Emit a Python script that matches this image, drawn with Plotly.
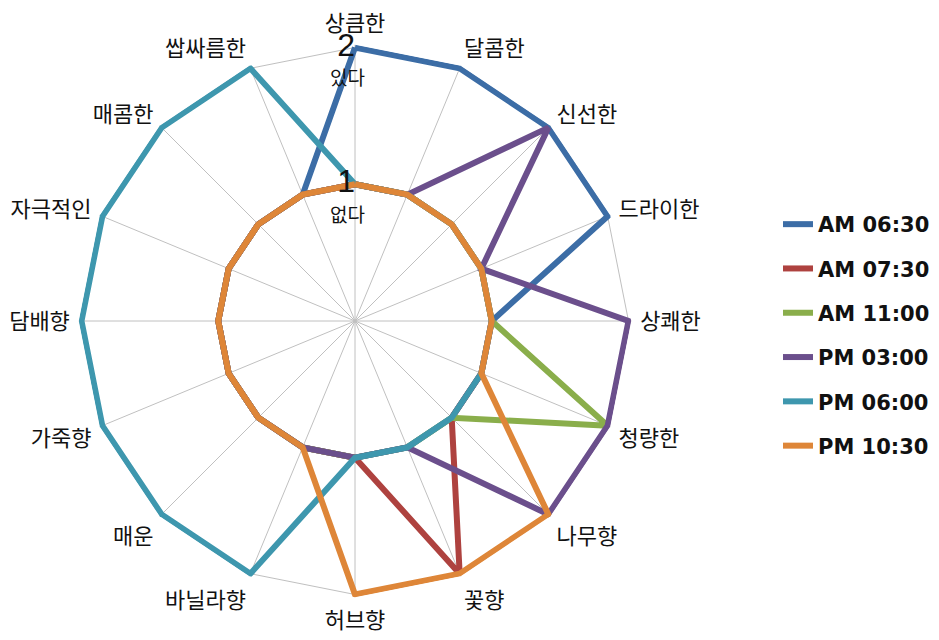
import plotly.graph_objects as go

categories = ['상큼한', '달콤한', '신선한', '드라이한', '상쾌한', '청량한', '나무향', '꽃향',
              '허브향', '바닐라향', '매운', '가죽향', '담배향', '자극적인', '매콤한', '쌉싸름한']

series_names = ['AM 06:30', 'AM 07:30', 'AM 11:00', 'PM 03:00', 'PM 06:00', 'PM 10:30']
am_0630 = [2, 2, 2, 2, 1, 1, 1, 1, 1, 1, 1, 1, 1, 1, 1, 1]
am_0730 = [1, 1, 1, 1, 1, 1, 1, 2, 1, 1, 1, 1, 1, 1, 1, 1]
am_1100 = [1, 1, 1, 1, 1, 2, 1, 1, 1, 1, 1, 1, 1, 1, 1, 1]
pm_0300 = [1, 1, 2, 1, 2, 2, 2, 1, 1, 1, 1, 1, 1, 1, 1, 1]
pm_0600 = [1, 1, 1, 1, 1, 1, 1, 1, 1, 2, 2, 2, 2, 2, 2, 2]
pm_1030 = [1, 1, 1, 1, 1, 1, 2, 2, 2, 1, 1, 1, 1, 1, 1, 1]
series_values = [am_0630, am_0730, am_1100, pm_0300, pm_0600, pm_1030]
colors = ['#3C6DA6', '#AE423F', '#8AAE4B', '#6B4F8C', '#3E97AE', '#DE8638']

radial_ticks = [0, 1, 2]
radial_ticktext = ['0', '1', '2']
r_max = 2.02  # small headroom so the thick outer lines are not clipped

W, H = 939, 640
OFF = 8  # page body margin compensation

fig = go.Figure()
for name, vals, col in zip(series_names, series_values, colors):
    fig.add_trace(go.Scatterpolar(
        r=vals + vals[:1], theta=categories + categories[:1],
        mode='lines', name=name, legendgroup=name, cliponaxis=False,
        line=dict(color=col, width=6),
    ))

fig.add_trace(go.Scatterpolar(
    r=radial_ticks, theta=[categories[0]] * len(radial_ticks),
    mode='text', text=radial_ticktext, textposition='middle left', cliponaxis=False,
    textfont=dict(family='Liberation Sans', size=32, color='#111'),
    showlegend=False, hoverinfo='skip',
))

for txt, px, py in [('없다', 347, 213), ('있다', 347, 77)]:
    fig.add_annotation(x=(px - OFF) / W, y=1 - (py - OFF) / H, xref='paper', yref='paper',
                       xanchor='center', yanchor='middle', text=txt, showarrow=False,
                       font=dict(family='Noto Sans CJK KR', size=19, color='#111'))

cx, cy = 355 - OFF, 321 - OFF
rad = 273.5 * r_max / 2
fig.update_layout(
    width=W, height=H,
    margin=dict(l=0, r=0, t=0, b=0),
    paper_bgcolor='white',
    polar=dict(
        domain=dict(x=[(cx - rad) / W, (cx + rad) / W],
                    y=[1 - (cy + rad) / H, 1 - (cy - rad) / H]),
        gridshape='linear', bgcolor='white',
        radialaxis=dict(range=[0, r_max], tickvals=radial_ticks, showticklabels=False,
                        ticks='', showline=False, gridcolor='#C0C0C0', gridwidth=1,
                        layer='below traces'),
        angularaxis=dict(direction='clockwise', rotation=90, gridcolor='#C0C0C0',
                         showline=False, ticks='outside', ticklen=4,
                         tickcolor='rgba(0,0,0,0)', layer='below traces',
                         tickfont=dict(family='Noto Sans CJK KR', size=22, color='#111')),
    ),
    legend=dict(x=770 / W, y=1 - 196 / H, xanchor='left', yanchor='top',
                tracegroupgap=14,
                font=dict(family='DejaVu Sans', size=21, color='#111', weight='bold')),
)

fig.write_html('out.html')
